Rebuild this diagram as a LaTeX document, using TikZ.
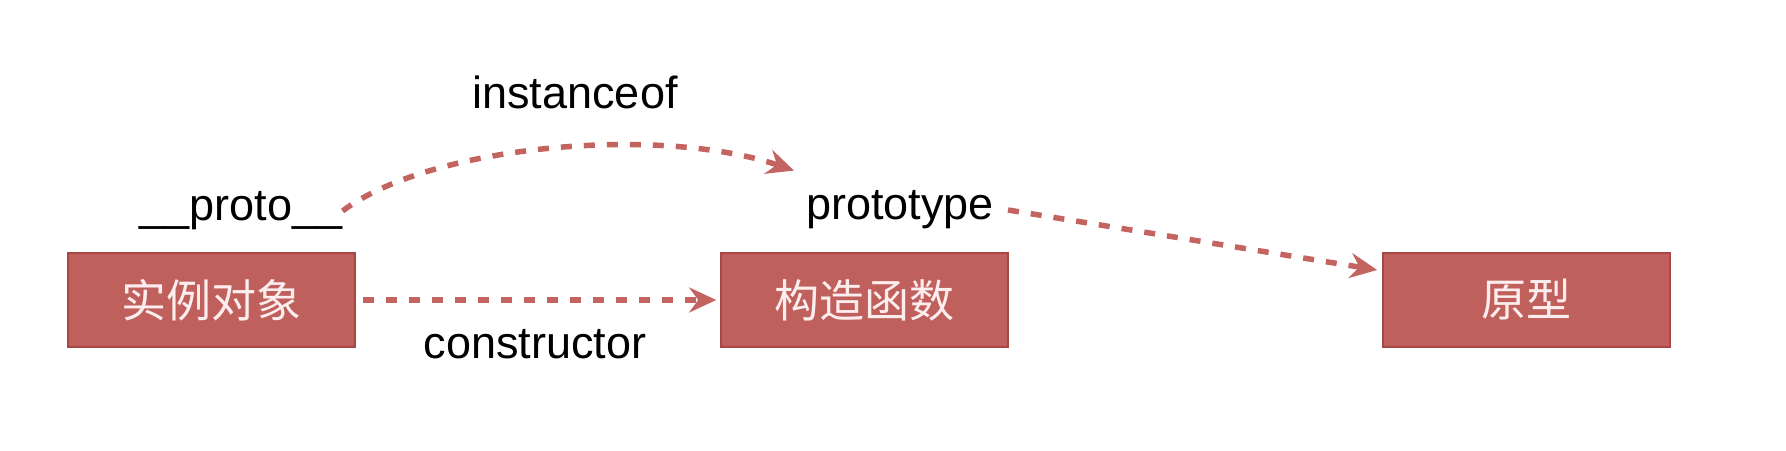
\documentclass[tikz,border=0pt]{standalone}
\usepackage{fontspec}
\setmainfont{Liberation Sans}
\newfontfamily\cjk{Noto Sans CJK SC}
\usetikzlibrary{arrows.meta,positioning}

\definecolor{boxred}{RGB}{192,96,92}
\definecolor{boxedge}{RGB}{165,72,70}
\definecolor{boxtext}{RGB}{252,238,238}
\definecolor{arrowred}{RGB}{196,100,96}

\tikzstyle{box} = [rectangle, minimum width=287pt, minimum height=94pt, text centered, fill=boxred, draw=boxedge, line width=1.5pt, text=boxtext, font=\cjk\fontsize{45}{54}\selectfont]
\tikzstyle{tag} = [inner sep=0pt, font=\fontsize{45}{54}\selectfont]
\tikzstyle{arrow} = [line width=5.5pt, draw=arrowred, dash pattern=on 11pt off 12pt, -{Stealth[length=27pt,width=25pt,inset=9pt]}]

\begin{document}
\begin{tikzpicture}[x=1pt,y=1pt]
  \useasboundingbox (0,0) rectangle (1786,450);

  \node (Instance Object) [box] at (211.5,150) {实例对象};
  \node (Constructor Function) [box, right of=Instance Object, xshift=624.5pt] {构造函数};
  \node (Prototype Object) [box, right of=Constructor Function, xshift=633.5pt] {原型};

  \node (proto label) [tag] at (241,239) {\_\_proto\_\_};
  \node (instanceof label) [tag] at (575,358) {instanceof};
  \node (prototype label) [tag] at (900,240) {prototype};
  \node (constructor label) [tag] at (535,106) {constructor};

  \draw [arrow] (proto label.east) .. controls (430,305) and (660,325) .. ([xshift=-12pt,yshift=20pt]prototype label.north west);
  \draw [arrow] ([xshift=7pt]Instance Object.east) -- ([xshift=-4pt]Constructor Function.west);
  \draw [arrow] ([xshift=14pt]prototype label.east) -- ([xshift=-5pt,yshift=30pt]Prototype Object.west);
\end{tikzpicture}
\end{document}
